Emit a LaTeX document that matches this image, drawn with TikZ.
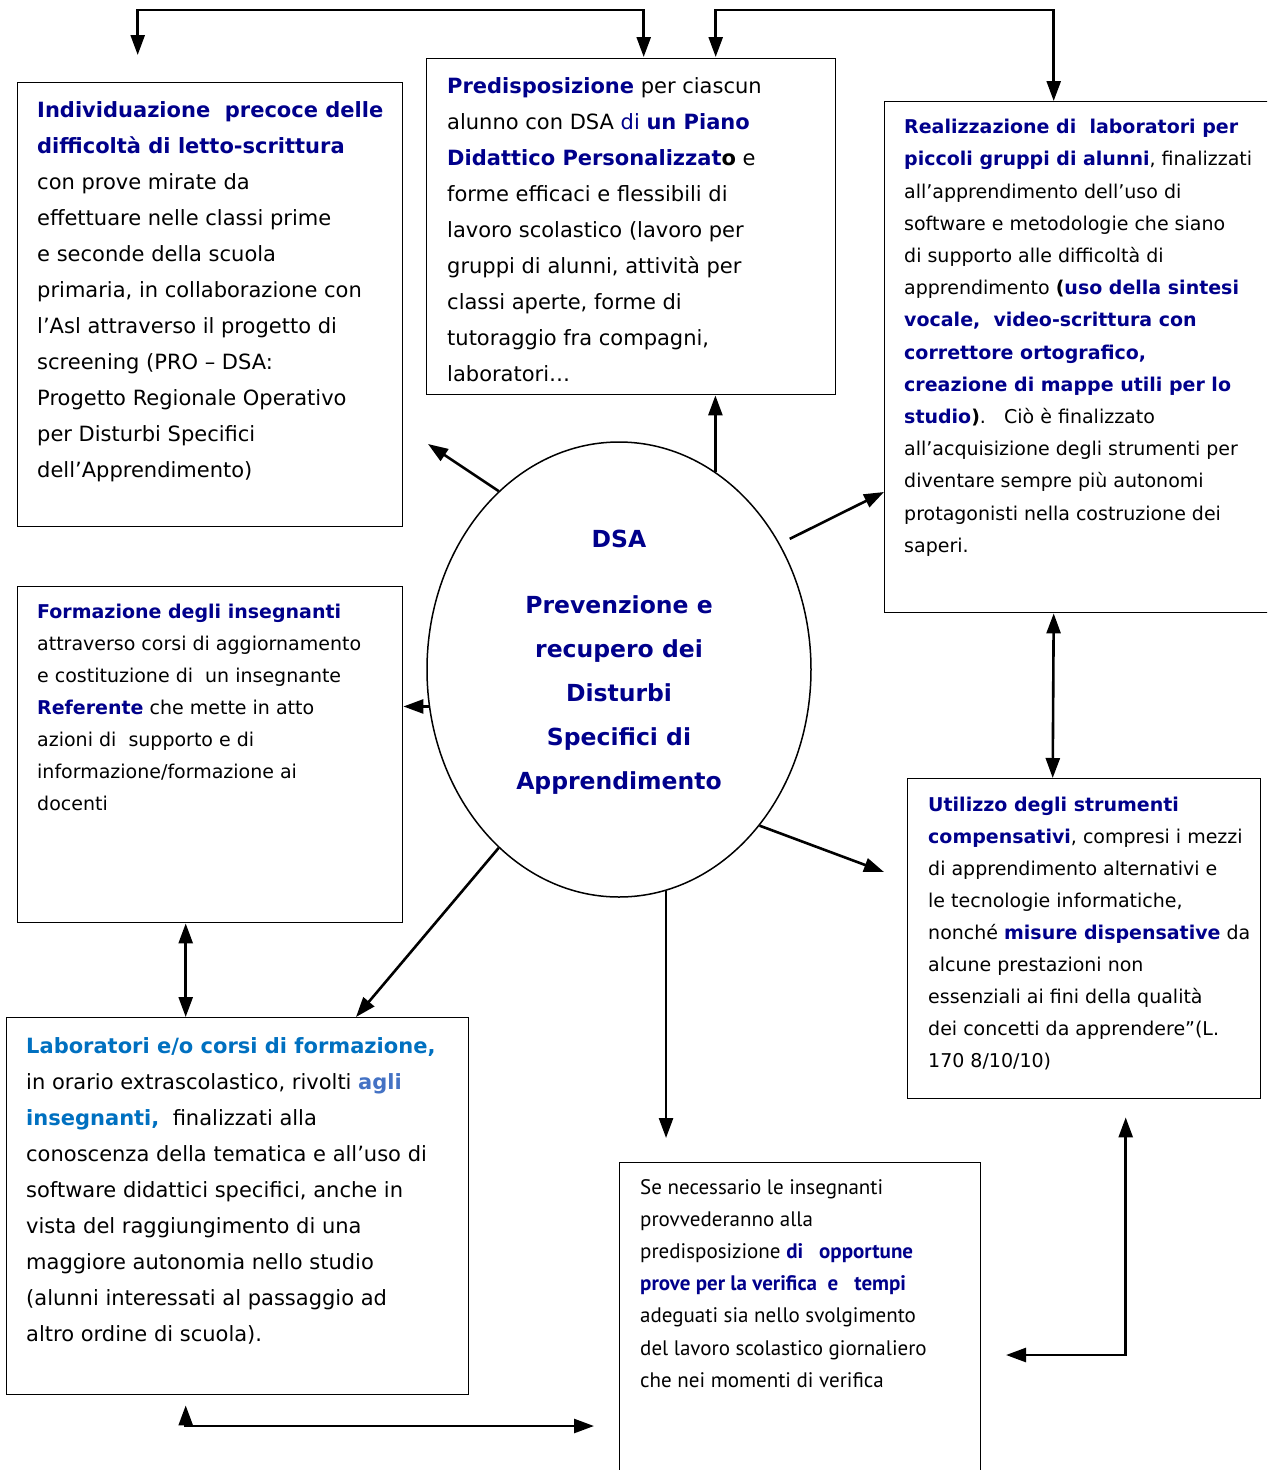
\documentclass[tikz,border=0pt]{standalone}
\usepackage{fontspec}
\setmainfont{DejaVu Sans}
\newfontfamily\sefont{PT Sans}
\usepackage{xcolor}
\usetikzlibrary{arrows.meta}
\usetikzlibrary{shapes.geometric}
\usetikzlibrary{positioning}
\definecolor{dsablue}{RGB}{0,0,139}
\definecolor{labblue}{RGB}{0,112,192}
\definecolor{agliblue}{RGB}{68,114,196}
\newcommand{\blu}[1]{\textcolor{dsablue}{\textbf{#1}}}
\tikzset{
  box/.style={draw, line width=1.4pt, anchor=north west, inner sep=0pt},
  txt/.style={anchor=north west, inner sep=0pt, align=left},
  bigtxt/.style={txt, font=\fontsize{21}{36}\selectfont},
  smalltxt/.style={txt, font=\fontsize{19}{32.2}\selectfont},
  arr/.style={line width=2.6pt, -{Triangle[length=20pt,width=14pt]}},
  arrtwo/.style={line width=2.6pt, {Triangle[length=20pt,width=14pt]}-{Triangle[length=20pt,width=14pt]}}
}
\begin{document}
\begin{tikzpicture}[x=1pt,y=-1pt,line join=miter]
\useasboundingbox (0,0) rectangle (1267,1470);
\clip (0,0) rectangle (1267,1470);
% boxes
\node[box, minimum width=385pt, minimum height=444pt] (ind) at (17,82) {};
\node[box, minimum width=409pt, minimum height=336pt] (pred) at (426,58) {};
\node[box, minimum width=385pt, minimum height=511pt] (real) at (884,101) {};
\node[box, minimum width=385pt, minimum height=336pt] (form) at (17,586) {};
\node[box, minimum width=353pt, minimum height=320pt] (util) at (907,778) {};
\node[box, minimum width=462pt, minimum height=377pt] (lab) at (6,1017) {};
\node[box, minimum width=361pt, minimum height=330pt] (se) at (619,1162) {};
\node[draw, ellipse, line width=1.5pt, minimum width=384pt, minimum height=455pt, inner sep=0pt] (dsa) at (619,669.5) {};
% texts
\node[bigtxt] (indtext) at ([shift={(20,19)}]ind.north west) {\blu{Individuazione~ precoce delle}\\
\blu{difficoltà di letto-scrittura}\\
con prove mirate da\\
effettuare nelle classi prime\\
e seconde della scuola\\
primaria, in collaborazione con\\
l'Asl attraverso il progetto di\\
screening (PRO – DSA:\\
Progetto Regionale Operativo\\
per Disturbi Specifici\\
dell’Apprendimento)};
\node[bigtxt] (predtext) at ([shift={(21,19)}]pred.north west) {\blu{Predisposizione} per ciascun\\
alunno con DSA \textcolor{dsablue}{di} \blu{un Piano}\\
\blu{Didattico Personalizzat}\textbf{o} e\\
forme efficaci e flessibili di\\
lavoro scolastico (lavoro per\\
gruppi di alunni, attività per\\
classi aperte, forme di\\
tutoraggio fra compagni,\\
laboratori…};
\node[smalltxt] (realtext) at ([shift={(20,18)}]real.north west) {\blu{Realizzazione di~ laboratori per}\\
\blu{piccoli gruppi di alunni}, finalizzati\\
all'apprendimento dell’uso di\\
software e metodologie che siano\\
di supporto alle difficoltà di\\
apprendimento \textbf{(}\blu{uso della sintesi}\\
\blu{vocale,~ video-scrittura con}\\
\blu{correttore ortografico,}\\
\blu{creazione di mappe utili per lo}\\
\blu{studio}\textbf{)}.~~~Ciò è finalizzato\\
all’acquisizione degli strumenti per\\
diventare sempre più autonomi\\
protagonisti nella costruzione dei\\
saperi.};
\node[smalltxt, font=\fontsize{19}{32}\selectfont] (formtext) at ([shift={(20,18)}]form.north west) {\blu{Formazione degli insegnanti}\\
attraverso corsi di aggiornamento\\
e costituzione di~ un insegnante\\
\blu{Referente} che mette in atto\\
azioni di~ supporto e di\\
informazione/formazione ai\\
docenti};
\node[smalltxt, font=\fontsize{19}{32}\selectfont] (utiltext) at ([shift={(21,19)}]util.north west) {\blu{Utilizzo degli strumenti}\\
\blu{compensativi}, compresi i mezzi\\
di apprendimento alternativi e\\
le tecnologie informatiche,\\
nonché \blu{misure dispensative} da\\
alcune prestazioni non\\
essenziali ai fini della qualità\\
dei concetti da apprendere”(L.\\
170 8/10/10)};
\node[bigtxt] (labtext) at ([shift={(20,20)}]lab.north west) {\textcolor{labblue}{\textbf{Laboratori e/o corsi di formazione,}}\\
in orario extrascolastico, rivolti \textcolor{agliblue}{\textbf{agli}}\\
\textcolor{labblue}{\textbf{insegnanti,}}~ finalizzati alla\\
conoscenza della tematica e all’uso di\\
software didattici specifici, anche in\\
vista del raggiungimento di una\\
maggiore autonomia nello studio\\
(alunni interessati al passaggio ad\\
altro ordine di scuola).};
\node[txt, font=\sefont\fontsize{21}{32.2}\selectfont] (setext) at ([shift={(21,17)}]se.north west) {Se necessario le insegnanti\\
provvederanno alla\\
predisposizione \blu{di~~ opportune}\\
\blu{prove per la verifica~ e~~ tempi}\\
adeguati sia nello svolgimento\\
del lavoro scolastico giornaliero\\
che nei momenti di verifica};
\node[font=\fontsize{23.5}{44}\selectfont\bfseries, text=dsablue, align=center] (dsatitle) at (619,662) {DSA\\[22pt]Prevenzione e\\recupero dei\\Disturbi\\Specifici di\\Apprendimento};
% free ends of the connectors
\coordinate (indend) at (428,444);
\coordinate (realend) at (884,492);
\coordinate (utilend) at (884,872);
\coordinate (labend) at (356,1017);
\coordinate (labse) at (619,1426);
\coordinate (seutil) at (980,1355);
% connectors
\draw[arr] (dsa.124) -- (indend);
\draw[arr] (dsa.64) -- (dsa.64 |- pred.south);
\draw[arr, shorten <=11pt] (dsa.38) -- (realend);
\draw[arr] (dsa.191) -- (dsa.191 -| form.east);
\draw[arr] (dsa.236) -- (labend);
\draw[arr, shorten >=24pt] (dsa.282) -- (dsa.282 |- se.north);
\draw[arr] (dsa.312) -- (utilend);
\draw[arrtwo] ([xshift=-23.5]real.south) -- ([xshift=-31.5]util.north);
\draw[arrtwo] ([xshift=-24.5]form.south) -- ([xshift=-52]lab.north);
\draw[arrtwo, shorten <=10pt, shorten >=25pt] ([xshift=-52]lab.south) |- (labse);
\draw[arrtwo, shorten <=18pt, shorten >=26pt] ([xshift=41.5]util.south) |- (seutil);
\draw[arrtwo, shorten <=27pt, shorten >=1pt] ([xshift=-72.5]ind.north) -- ++(0,-72) -| ([xshift=12.5]pred.north);
\draw[arrtwo, shorten <=1pt] ([xshift=84.5]pred.north) -- ++(0,-48) -| ([xshift=-23.5]real.north);
\end{tikzpicture}
\end{document}
